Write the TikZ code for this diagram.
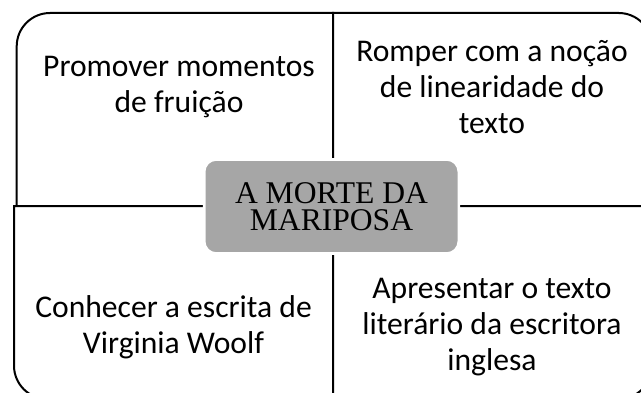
\documentclass[tikz,border=0pt]{standalone}
\usepackage{fontspec}
\setmainfont{Liberation Serif}
\newfontfamily\quadfont{Carlito}
\usetikzlibrary{positioning, calc}
\definecolor{CoreGray}{RGB}{166, 166, 166}
\definecolor{LineDark}{RGB}{0, 0, 0}

\tikzset{
    quadline/.style={draw=LineDark, line width=1.5pt, fill=white},
    quadtext/.style={font=\quadfont\fontsize{23.7}{27}\selectfont, align=center, anchor=base},
    corebox/.style={
        fill=CoreGray,
        draw=white,
        line width=2pt,
        rounded corners=9pt,
        minimum width=191pt,
        minimum height=70.5pt,
        align=center,
        font=\fontsize{23.7}{20.3}\selectfont
    }
}

\begin{document}
\begin{tikzpicture}[x=0.75pt, y=-0.75pt]
        \useasboundingbox (0,0) rectangle (641,392);
        \clip (0,0) rectangle (641,392);

        % Quadrants, one rounded outer corner each
        \draw[quadline] (175,13) -- (333,13) -- (333,206) -- (16.7,206) -- (16.7,110) [rounded corners=25pt] -- (16.7,13) -- cycle;
        \draw[quadline] (333,110) -- (333,13) -- (490,13) [rounded corners=25pt] -- (652,13) -- (652,110) [sharp corners] -- (652,206) -- (333,206) -- cycle;
        \draw[quadline] (14,300) -- (14,206) -- (333,206) -- (333,399) -- (175,399) [rounded corners=25pt] -- (14,399) -- cycle;
        \draw[quadline] (333,206) -- (652,206) -- (652,300) [rounded corners=25pt] -- (652,399) -- (490,399) [sharp corners] -- (333,399) -- cycle;

        % Quadrant texts (anchored at the last line)
        \node[quadtext] (fruicao) at (179,113) {Promover momentos\\de fruição};
        \node[quadtext] (linear) at (492,133) {Romper com a noção\\de linearidade do\\texto};
        \node[quadtext] (woolf) at (173.5,353) {Conhecer a escrita de\\Virginia Woolf};
        \node[quadtext] (inglesa) at (492,370) {Apresentar o texto\\literário da escritora\\inglesa};

        % Central title box
        \node[corebox] (core) at (331.5,206.5) {A MORTE DA\\MARIPOSA};
    \end{tikzpicture}
\end{document}
